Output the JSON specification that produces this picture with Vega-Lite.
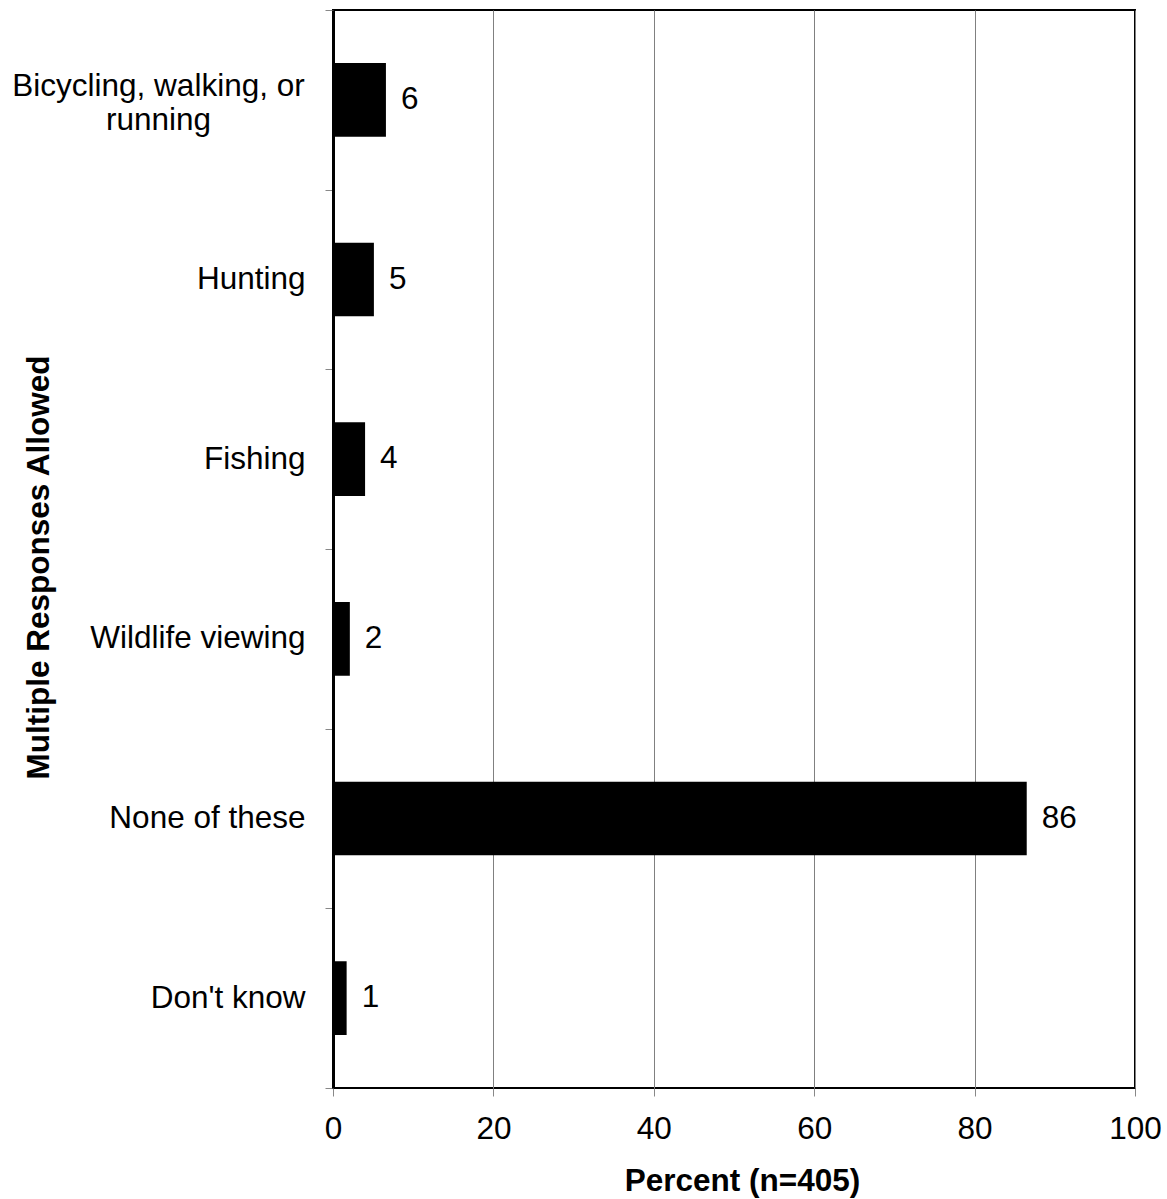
{
  "$schema": "https://vega.github.io/schema/vega-lite/v6.json",
  "width": 802,
  "height": 1078,
  "autosize": {"type": "none"},
  "padding": {"left": 333, "top": 10, "right": 32, "bottom": 111},
  "background": "white",
  "config": {
    "view": {"stroke": "black", "strokeWidth": 2},
    "font": "Liberation Sans"
  },
  "data": {
    "values": [
      {"response": "Bicycling, walking, or running", "percent": 6.6, "label": "6"},
      {"response": "Hunting", "percent": 5.1, "label": "5"},
      {"response": "Fishing", "percent": 4.0, "label": "4"},
      {"response": "Wildlife viewing", "percent": 2.1, "label": "2"},
      {"response": "None of these", "percent": 86.5, "label": "86"},
      {"response": "Don't know", "percent": 1.7, "label": "1"}
    ]
  },
  "encoding": {
    "y": {
      "field": "response",
      "type": "nominal",
      "sort": null,
      "scale": {"paddingInner": 0, "paddingOuter": 0},
      "axis": {
        "title": "Multiple Responses Allowed",
        "titleFont": "Liberation Sans",
        "titleFontSize": 31.5,
        "titleFontWeight": "bold",
        "titleColor": "black",
        "titleAngle": -90,
        "titleAlign": "center",
        "titleBaseline": "alphabetic",
        "titleX": -285,
        "titleY": 557,
        "labelFont": "Liberation Sans",
        "labelFontSize": 31.5,
        "labelColor": "black",
        "labelAlign": {"condition": {"test": "datum.value == 'Bicycling, walking, or running'", "value": "center"}, "value": "right"},
        "labelPadding": {"condition": {"test": "datum.value == 'Bicycling, walking, or running'", "value": 167}, "value": 20},
        "labelOffset": {"condition": {"test": "datum.value == 'Bicycling, walking, or running'", "value": -13}, "value": 0},
        "labelLineHeight": 34,
        "labelLimit": 600,
        "labelExpr": "datum.label == 'Bicycling, walking, or running' ? ['Bicycling, walking, or', 'running'] : datum.label",
        "tickBand": "extent",
        "tickSize": 8,
        "tickColor": "#888888",
        "tickWidth": 1,
        "domain": true,
        "domainColor": "black",
        "domainWidth": 3,
        "grid": false
      }
    }
  },
  "layer": [
    {
      "mark": {"type": "bar", "color": "black", "height": {"band": 0.41}},
      "encoding": {
        "x": {
          "field": "percent",
          "type": "quantitative",
          "scale": {"domain": [0, 100]},
          "axis": {
            "title": "Percent (n=405)",
            "titleFont": "Liberation Sans",
            "titleFontSize": 31.5,
            "titleFontWeight": "bold",
            "titleColor": "black",
            "titleAnchor": "middle",
            "titleBaseline": "alphabetic",
            "titleX": 409,
            "titleY": 102,
            "values": [0, 20, 40, 60, 80, 100],
            "labelFont": "Liberation Sans",
            "labelFontSize": 31.5,
            "labelColor": "black",
            "labelPadding": 17,
            "labelFlush": false,
            "labelOverlap": false,
            "tickSize": 8,
            "tickColor": "#888888",
            "tickWidth": 1,
            "domain": false,
            "grid": true,
            "gridColor": "#808080",
            "gridWidth": 1,
            "gridOpacity": 1
          }
        }
      }
    },
    {
      "mark": {"type": "text", "align": "left", "baseline": "middle", "dx": 15, "fontSize": 31.5, "font": "Liberation Sans", "color": "black"},
      "encoding": {
        "x": {"field": "percent", "type": "quantitative"},
        "text": {"field": "label"}
      }
    }
  ]
}
